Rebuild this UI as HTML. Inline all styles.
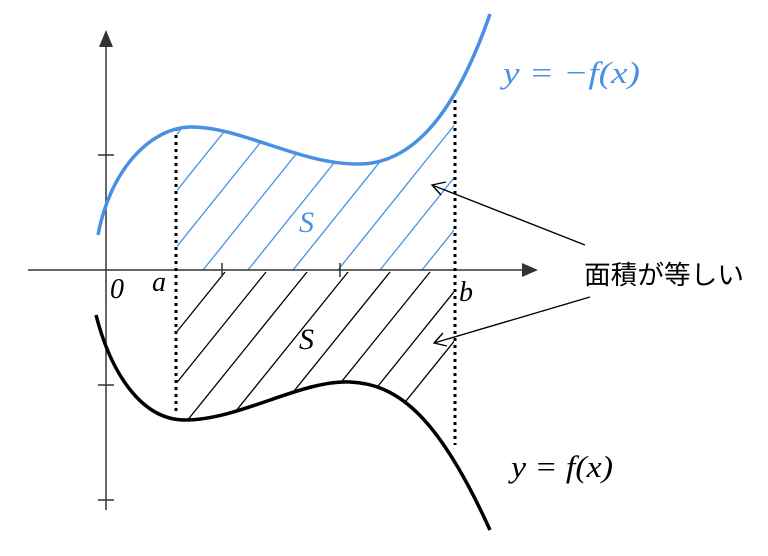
<!DOCTYPE html>
<html><head><meta charset="utf-8"><style>
html,body{margin:0;padding:0;background:#fff}
svg{display:block}
.m{font-family:"Liberation Serif","DejaVu Serif",serif;font-style:italic}
</style></head><body>
<svg width="768" height="556" viewBox="0 0 768 556" xmlns="http://www.w3.org/2000/svg">
<defs>
<clipPath id="cu"><path d="M98,235 C110,170 150,128 190,127 C240,126 300,165 360,164 C420,163 460,100 490,14 L490,270 L98,270 Z"/></clipPath>
<clipPath id="cl"><path d="M96,315 C110,370 140,420 185,420 C240,420 300,380 350,382 C400,384 440,420 490,530 L490,270 L96,270 Z"/></clipPath>
<clipPath id="cr"><rect x="177" y="0" width="277" height="556"/></clipPath>
</defs>
<g clip-path="url(#cr)"><g clip-path="url(#cu)" stroke="#4a90e2" stroke-width="1.3">
<line x1="203" y1="270" x2="403" y2="21"/>
<line x1="158" y1="270" x2="358" y2="21"/>
<line x1="248" y1="270" x2="448" y2="21"/>
<line x1="293" y1="270" x2="493" y2="21"/>
<line x1="338" y1="270" x2="538" y2="21"/>
<line x1="380" y1="270" x2="580" y2="21"/>
<line x1="422" y1="270" x2="622" y2="21"/>
<line x1="113" y1="270" x2="313" y2="21"/>
<line x1="68" y1="270" x2="268" y2="21"/>
</g>
<g clip-path="url(#cl)" stroke="#000" stroke-width="1.3">
<line x1="225" y1="272" x2="25" y2="520"/>
<line x1="266" y1="272" x2="66" y2="520"/>
<line x1="307" y1="272" x2="107" y2="520"/>
<line x1="348" y1="272" x2="148" y2="520"/>
<line x1="390" y1="272" x2="190" y2="520"/>
<line x1="430" y1="272" x2="230" y2="520"/>
<line x1="470" y1="272" x2="270" y2="520"/>
<line x1="510" y1="272" x2="310" y2="520"/>
</g></g>
<g stroke="#333" stroke-width="1.5" fill="none">
<line x1="28" y1="270" x2="525" y2="270"/>
<line x1="106" y1="510" x2="106" y2="45"/>
<line x1="98" y1="155" x2="114" y2="155"/>
<line x1="98" y1="385" x2="114" y2="385"/>
<line x1="98" y1="500" x2="114" y2="500"/>
<line x1="222" y1="263" x2="222" y2="277"/>
<line x1="340" y1="263" x2="340" y2="277"/>
</g>
<polygon points="538,270 522,263 522,277" fill="#333"/>
<polygon points="106,30 99,47 113,47" fill="#333"/>
<g stroke="#000" stroke-width="3" stroke-dasharray="3,4">
<line x1="176" y1="128" x2="176" y2="412"/>
<line x1="455" y1="100" x2="455" y2="445"/>
</g>
<path d="M98,235 C110,170 150,128 190,127 C240,126 300,165 360,164 C420,163 460,100 490,14" fill="none" stroke="#4a90e2" stroke-width="3.5"/>
<path d="M96,315 C110,370 140,420 185,420 C240,420 300,380 350,382 C400,384 440,420 490,530" fill="none" stroke="#000" stroke-width="3.5"/>
<g stroke="#000" stroke-width="1.4" fill="none">
<line x1="585" y1="245" x2="432" y2="185"/>
<polyline points="446,182 432,185 441,195"/>
<line x1="590" y1="297" x2="434" y2="343"/>
<polyline points="443,333 434,343 447,346"/>
</g>
<text x="584" y="284" font-family="'Liberation Sans','Noto Sans CJK JP',sans-serif" font-size="26" fill="#000" textLength="160" lengthAdjust="spacingAndGlyphs">面積が等しい</text>
<text x="503" y="83" class="m" font-size="31" fill="#4a90e2" textLength="137" lengthAdjust="spacingAndGlyphs">y = −f(x)</text>
<text x="511" y="477" class="m" font-size="31" fill="#000" textLength="102" lengthAdjust="spacingAndGlyphs">y = f(x)</text>
<text x="299" y="232" class="m" font-size="30" fill="#4a90e2">S</text>
<text x="299" y="349" class="m" font-size="30" fill="#000">S</text>
<text x="110" y="298" class="m" font-size="28" fill="#000">0</text>
<text x="152" y="291" class="m" font-size="28" fill="#000">a</text>
<text x="459" y="301" class="m" font-size="28" fill="#000">b</text>
</svg>
</body></html>
